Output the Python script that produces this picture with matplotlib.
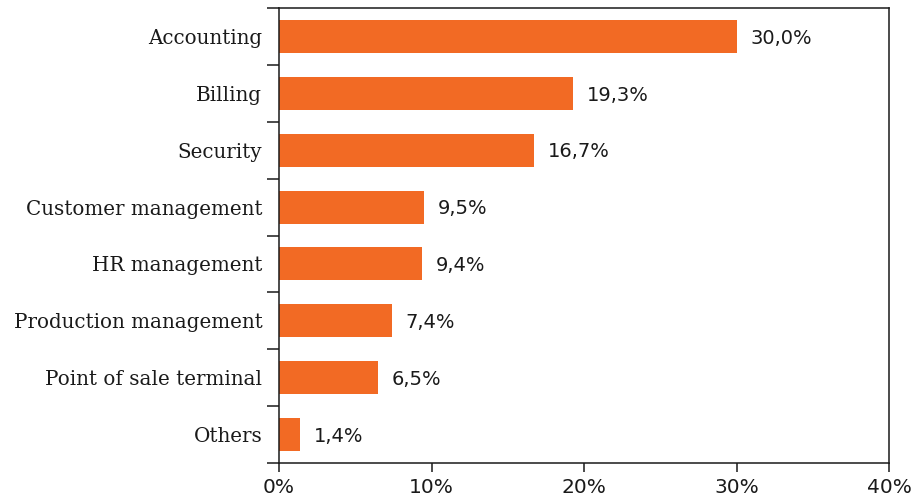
import numpy as np
import matplotlib.pyplot as plt
from matplotlib.ticker import FixedLocator, MultipleLocator

categories = ["Accounting", "Billing", "Security", "Customer management",
              "HR management", "Production management",
              "Point of sale terminal", "Others"]
shares = [30.0, 19.3, 16.7, 9.5, 9.4, 7.4, 6.5, 1.4]

BAR_COLOR = "#F26A24"
INK = "#1a1a1a"

fig = plt.figure(figsize=(9.23, 4.99), dpi=100)
ax = fig.add_axes([279 / 923, 36 / 499, 610 / 923, 455 / 499])

# reversed so the first category sits at the top
y = np.arange(len(categories))[::-1]
ax.barh(y, shares, height=0.58, color=BAR_COLOR)

for yi, v in zip(y, shares):
    ax.text(v + 0.9, yi - 0.03, f"{v:.1f}%".replace(".", ","), va="center", ha="left",
            fontsize=14, family="DejaVu Sans", color=INK)

ax.set_xlim(0, 40)
ax.set_ylim(-0.5, len(categories) - 0.5)

ax.set_yticks(y)
ax.set_yticklabels(categories, family="DejaVu Serif", fontsize=14.3, color=INK)
ax.yaxis.set_minor_locator(FixedLocator(np.arange(-0.5, len(categories), 1.0)))
ax.tick_params(axis="y", which="major", length=0, pad=12)
ax.tick_params(axis="y", which="minor", length=8.6, width=1.1, color=INK)

ax.xaxis.set_major_locator(MultipleLocator(10))
ax.set_xticklabels([f"{int(t)}%" for t in ax.get_xticks()])
ax.tick_params(axis="x", length=6.5, width=1.1, labelsize=14.5, pad=4,
               color=INK, labelcolor=INK)

for s in ax.spines.values():
    s.set_linewidth(1.1)
    s.set_color(INK)

fig.savefig("out.png", dpi=100)
